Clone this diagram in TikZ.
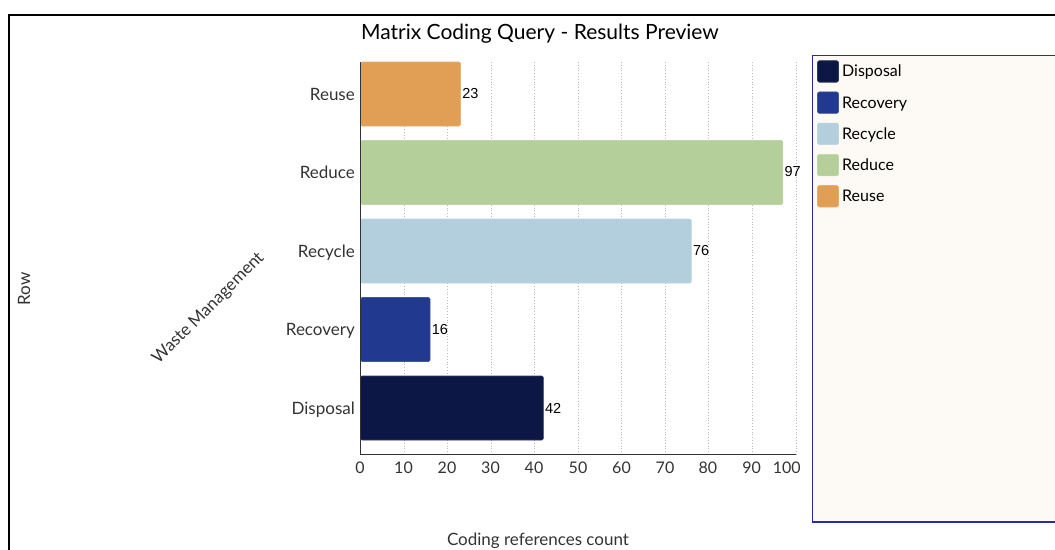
\documentclass[tikz,border=0pt]{standalone}
\usepackage{fontspec}
\setmainfont{Lato}
\newfontfamily\valfont{Liberation Sans}
\definecolor{cReuse}{HTML}{E09F55}
\definecolor{cReduce}{HTML}{B5CF9A}
\definecolor{cRecycle}{HTML}{B3CEDD}
\definecolor{cRecovery}{HTML}{213A8F}
\definecolor{cDisposal}{HTML}{0C1746}
\definecolor{txt}{HTML}{333333}
\definecolor{legline}{HTML}{2A2AA6}
\definecolor{legfill}{HTML}{FDFAF5}
\definecolor{gridc}{HTML}{BBBBBB}
\begin{document}
\begin{tikzpicture}[x=1pt,y=-1pt,
  catlabel/.style={anchor=base east,inner sep=0pt,text=txt,font=\fontsize{17}{19}\selectfont},
  vallabel/.style={anchor=west,inner sep=0pt,text=black,font=\valfont\fontsize{14.5}{16}\selectfont},
  ticklabel/.style={anchor=base,inner sep=0pt,text=txt,font=\fontsize{16}{18}\selectfont},
  leglabel/.style={anchor=base west,inner sep=0pt,text=black,font=\fontsize{16}{18}\selectfont},
  axtitle/.style={inner sep=0pt,text=txt,font=\fontsize{17}{19}\selectfont},
  bar/.style={rounded corners=1.5pt,line width=0.6pt},
  swatch/.style={rounded corners=2pt,line width=0.6pt}]
\useasboundingbox (0,0) rectangle (1055,549);
\clip (0,0) rectangle (1055,549);
% outer frame
\draw[line width=1.3pt] (9,560) -- (9,15) -- (1070,15);
% title
\node[anchor=base,inner sep=0pt,font=\fontsize{21}{24}\selectfont] (title) at (540,39) {Matrix Coding Query - Results Preview};
% grid
\foreach \v in {10,20,...,100}{
  \draw[gridc,line width=0.8pt,dotted] ({360.5+4.354*\v},62) -- ({360.5+4.354*\v},454.5);
}
% bars
\draw[bar,fill=cReuse,draw=cReuse!85!white] (360.5,62) rectangle ({360.5+4.354*23},126);
\draw[bar,fill=cReduce,draw=cReduce!85!white] (360.5,140.5) rectangle ({360.5+4.354*97},204.5);
\draw[bar,fill=cRecycle,draw=cRecycle!85!white] (360.5,219) rectangle ({360.5+4.354*76},283);
\draw[bar,fill=cRecovery,draw=cRecovery!85!white] (360.5,297.5) rectangle ({360.5+4.354*16},361.5);
\draw[bar,fill=cDisposal,draw=cDisposal!85!white] (360.5,376) rectangle ({360.5+4.354*42},440);
% axes
\draw[txt,line width=1.4pt] (360.5,62) -- (360.5,454.5) -- (796,454.5);
% category labels
\node[catlabel] (lReuse) at (355,100) {Reuse};
\node[catlabel] (lReduce) at (355,178.5) {Reduce};
\node[catlabel] (lRecycle) at (355,257) {Recycle};
\node[catlabel] (lRecovery) at (355,335.5) {Recovery};
\node[catlabel] (lDisposal) at (355,414) {Disposal};
% value labels
\node[vallabel] (vReuse) at ({362+4.354*23},93.5) {23};
\node[vallabel] (vReduce) at ({362+4.354*97},172) {97};
\node[vallabel] (vRecycle) at ({362+4.354*76},251) {76};
\node[vallabel] (vRecovery) at ({362+4.354*16},329.5) {16};
\node[vallabel] (vDisposal) at ({362+4.354*42},408) {42};
% tick labels
\foreach \v/\xx in {0/360,10/403.5,20/447,30/490.5,40/534,50/578,60/621.5,70/665,80/707.8,90/751.7,100/786.7}{
  \node[ticklabel] (t\v) at (\xx,473.3) {\v};
}
% axis titles
\node[axtitle,anchor=base] (xtitle) at (538,545.5) {Coding references count};
\node[axtitle,rotate=90] (rowt) at (24,289) {Row};
\node[axtitle,rotate=45] (wm) at (208.5,308.5) {Waste Management};
% legend
\draw[legline,fill=legfill,line width=1.3pt] (812.5,55.5) rectangle (1070,522);
\foreach \c/\n/\t in {cDisposal/Disposal/60.7,cRecovery/Recovery/91.9,cRecycle/Recycle/123.1,cReduce/Reduce/154.3,cReuse/Reuse/185.5}{
  \draw[swatch,fill=\c,draw=\c!85!white] (817.5,\t) rectangle (838.5,\t+21.5);
  \node[leglabel] (leg\n) at (842,\t+16.2) {\n};
}
\end{tikzpicture}
\end{document}
